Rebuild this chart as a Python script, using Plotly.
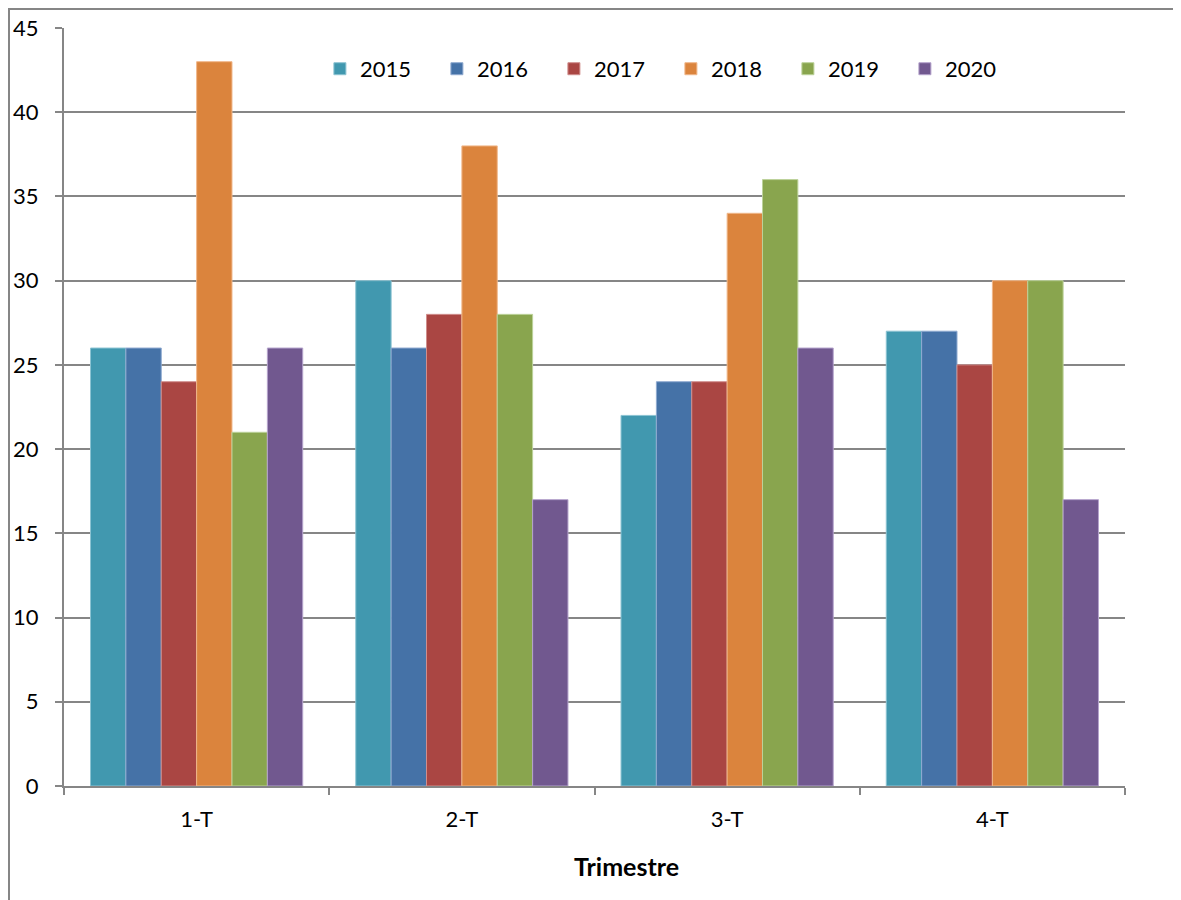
import plotly.graph_objects as go

categories = ["1-T", "2-T", "3-T", "4-T"]
years = ["2015", "2016", "2017", "2018", "2019", "2020"]
values_2015 = [26, 30, 22, 27]
values_2016 = [26, 26, 24, 27]
values_2017 = [24, 28, 24, 25]
values_2018 = [43, 38, 34, 30]
values_2019 = [21, 28, 36, 30]
values_2020 = [26, 17, 26, 17]
series = [values_2015, values_2016, values_2017, values_2018, values_2019, values_2020]
colors = ["#4198AF", "#4572A7", "#AA4643", "#DB843D", "#89A54E", "#71588F"]
border_colors = ["#8CC3D2", "#8FAAD0", "#D08E8C", "#F0B78A", "#BCD29A", "#B5A3CC"]
y_ticks = [0, 5, 10, 15, 20, 25, 30, 35, 40, 45]
x_title = "Trimestre"

FONT = "Lato"
GRAY = "#868686"

fig = go.Figure()
for name, vals, c, bc in zip(years, series, colors, border_colors):
    fig.add_trace(go.Bar(
        x=categories, y=vals, name=name,
        marker=dict(color=c, line=dict(color=bc, width=1)),
    ))

fig.update_layout(
    width=1173, height=892, autosize=False,
    margin=dict(l=56, r=56, t=20, b=114, pad=0),
    paper_bgcolor="white", plot_bgcolor="white",
    font=dict(family=FONT, size=22, color="black"),
    barmode="group", bargap=0.2, bargroupgap=0,
    showlegend=True,
    legend=dict(
        orientation="h", x=0.572, xanchor="center", y=0.946, yanchor="middle",
        font=dict(family=FONT, size=22, color="black"),
        itemwidth=30, entrywidth=72, traceorder="normal",
        bgcolor="rgba(0,0,0,0)",
    ),
    xaxis=dict(
        automargin=False,
        showline=True, linecolor=GRAY, linewidth=2,
        ticks="outside", ticklen=7, tickcolor=GRAY, tickwidth=2,
        tickson="boundaries", showgrid=False,
        ticklabelstandoff=13,
        tickfont=dict(family=FONT, size=22),
    ),
    yaxis=dict(
        automargin=False,
        range=[0, 45], tickvals=y_ticks,
        showline=True, linecolor=GRAY, linewidth=2,
        ticks="outside", ticklen=7, tickcolor=GRAY, tickwidth=2,
        showgrid=True, gridcolor=GRAY, gridwidth=2,
        zeroline=False, ticklabelstandoff=12,
        tickfont=dict(family=FONT, size=22),
    ),
    annotations=[dict(
        text="<b>" + x_title + "</b>", xref="paper", yref="paper",
        x=(626 - 64) / 1061, y=(786 - 866) / 758, xanchor="center", yanchor="middle",
        showarrow=False, font=dict(family=FONT, size=25, color="black"),
    )],
    shapes=[dict(
        type="rect", xref="paper", yref="paper",
        x0=(1 - 56) / 1061, x1=1.3, y0=-0.3, y1=1 + 19 / 758,
        line=dict(color=GRAY, width=2), fillcolor="rgba(0,0,0,0)", layer="below",
    )],
)

fig.write_html("out.html")
